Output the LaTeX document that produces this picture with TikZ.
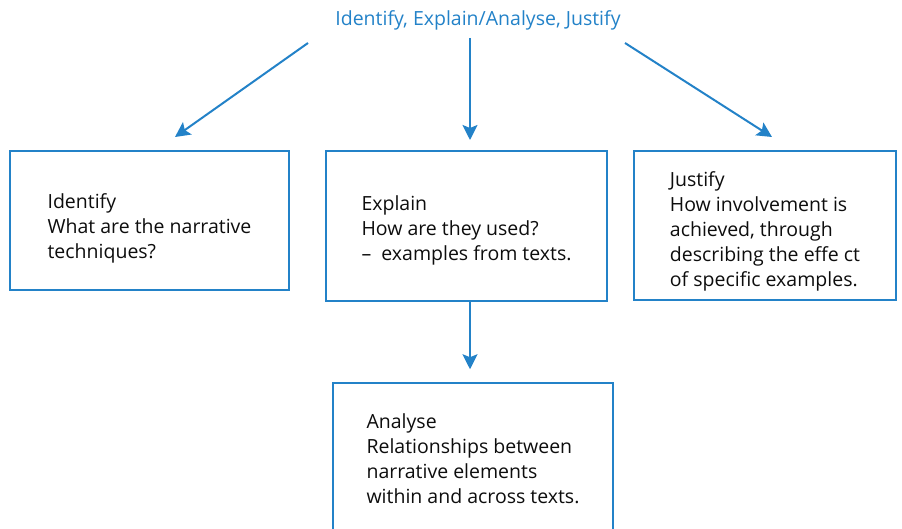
\documentclass[tikz,border=0pt]{standalone}
\usepackage{fontspec}
\setmainfont{Open Sans}
\usetikzlibrary{arrows.meta}
\definecolor{flowblue}{RGB}{35,130,200}

\begin{document}
\begin{tikzpicture}[x=1pt,y=-1pt,
  boxsty/.style={draw=flowblue, line width=1.5pt, rectangle, align=left,
    text=black!95, font=\fontsize{19.5}{25}\selectfont, text depth=0pt},
  arrsty/.style={draw=flowblue, line width=2pt,
    -{Stealth[length=15pt,width=15pt,inset=3pt]}},
  titsty/.style={text=flowblue, font=\fontsize{19.5}{22}\selectfont}]

%%%%%%%%%%%  Frame of the picture %%%%%%%%%%%%%%%%%%%%%
\useasboundingbox (0,0) rectangle (902,529);
% \draw[step=50pt,gray,very thin] (0,0) grid (902,529);
%%%%%%%%%%%%%%%%%%%%%%%%%%%%%%%%%%%%%%%%%%%%%%%%%%%%%%%

% Heading:
\node[titsty] (title) at (478,20) {Identify, Explain/Analyse, Justify};

% Three boxes in a row
\node[boxsty, minimum width=279pt, minimum height=139pt, text height=77pt] (ident) at (149.5,220.5)
  {Identify\\What are the narrative\\techniques?};
\node[boxsty, minimum width=281pt, minimum height=150pt, text height=70pt] (expl) at (466.5,226)
  {Explain\\How are they used?\\--\ \ examples from texts.};
\node[boxsty, minimum width=262pt, minimum height=149pt, text height=123pt] (just) at (765,225.5)
  {Justify\\How involvement is\\achieved, through\\describing the effe ct\\of specific examples.};

% Box below Explain (runs off the bottom)
\node[boxsty, minimum width=280pt, minimum height=150pt, text height=90pt] (ana) at (473,458)
  {Analyse\\Relationships between\\narrative elements\\within and across texts.};

% Arrow ends
\coordinate (ls) at (308,43);
\coordinate (le) at (175,137);
\coordinate (ms) at (470,38);
\coordinate (me) at (470,140);
\coordinate (rs) at (625,43);
\coordinate (re) at (772,137);

% Arrows from the heading
\draw[arrsty] (ls) -- (le);
\draw[arrsty] (ms) -- (me);
\draw[arrsty] (rs) -- (re);

% Explain down to Analyse
\draw[arrsty, shorten >=13pt] (expl.south -| ms) -- (ana.north -| ms);

\end{tikzpicture}
\end{document}
